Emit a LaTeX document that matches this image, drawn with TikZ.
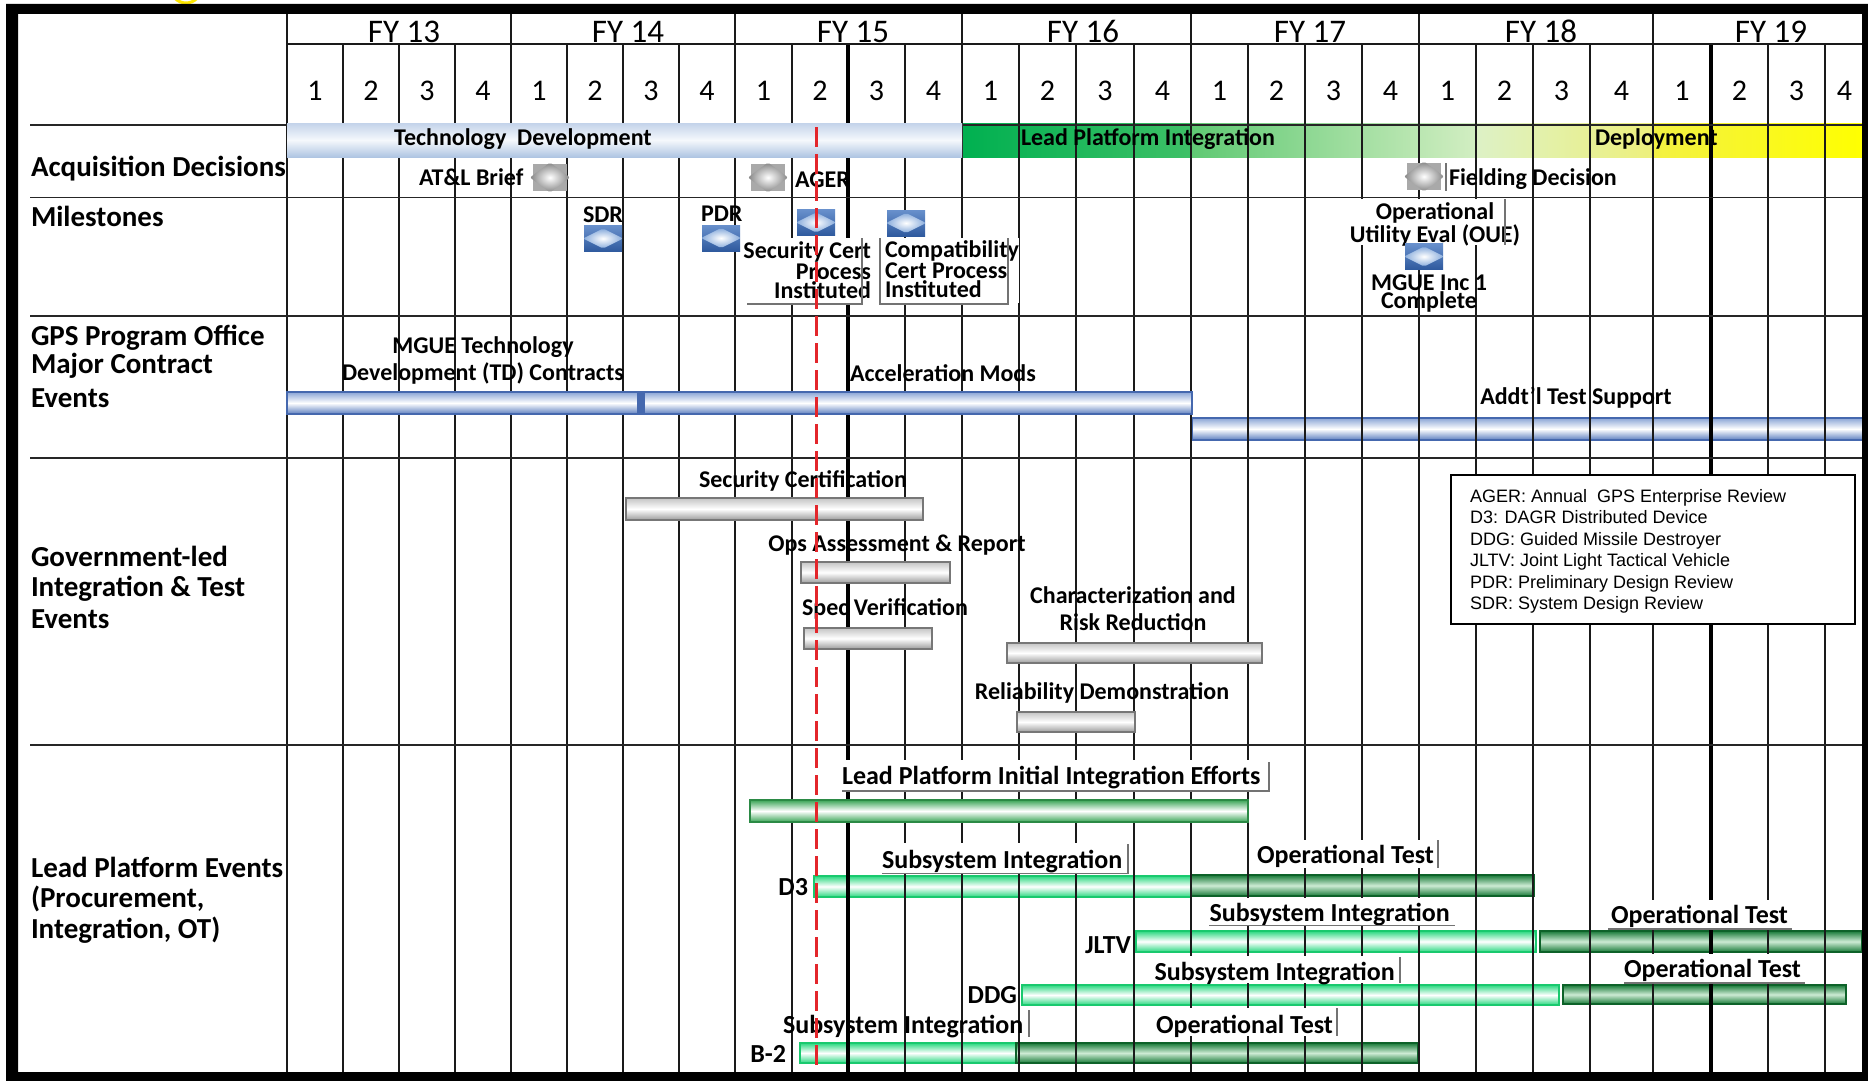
\documentclass[tikz,border=0pt]{standalone}
\usepackage{fontspec}
\setmainfont{Carlito}
\newfontfamily\legendfont{Liberation Sans}
\definecolor{gridc}{HTML}{1A1A1A}
\definecolor{redd}{HTML}{E3262B}
\definecolor{tdtop}{HTML}{C3D3EA}
\definecolor{tdmid}{HTML}{F5F8FC}
\definecolor{tdbot}{HTML}{AFC5E2}
\definecolor{gA}{HTML}{00B050}
\definecolor{gB}{HTML}{3EC067}
\definecolor{gC}{HTML}{5FC973}
\definecolor{gD}{HTML}{D2EEC2}
\definecolor{gE}{HTML}{DDF1C6}
\definecolor{gF}{HTML}{EDF07C}
\definecolor{gG}{HTML}{F3F143}
\definecolor{gH}{HTML}{FFFF00}
\definecolor{bluedge}{HTML}{4568AE}
\definecolor{bluetop}{HTML}{8AA5D6}
\definecolor{bluebot}{HTML}{5D7FC0}
\definecolor{greyedge}{HTML}{777777}
\definecolor{greytop}{HTML}{C4C4C4}
\definecolor{greybot}{HTML}{9C9C9C}
\definecolor{ltgedge}{HTML}{19C96E}
\definecolor{ltg}{HTML}{2AD880}
\definecolor{dkgedge}{HTML}{0D6229}
\definecolor{dkg}{HTML}{187A38}
\definecolor{dkgmid}{HTML}{CDEBD4}
\definecolor{mdgedge}{HTML}{2B8A45}
\definecolor{mdg}{HTML}{3AA556}
\definecolor{icongrey}{HTML}{A9A9A9}
\definecolor{icongreyd}{HTML}{858585}
\definecolor{iconbluel}{HTML}{6890CC}
\definecolor{iconblued}{HTML}{2F5A9E}
\definecolor{iconlens}{HTML}{86AADB}
\begin{document}
\begin{tikzpicture}[x=1pt,y=-1pt,
  every node/.style={inner sep=0pt, outer sep=0pt},
  fyhdr/.style={font=\fontsize{33}{33}\selectfont, anchor=base},
  hdr/.style={font=\fontsize{30}{30}\selectfont, anchor=base},
  sec/.style={font=\bfseries\fontsize{29}{31}\selectfont, anchor=base west},
  lbl/.style={font=\bfseries\fontsize{24}{25}\selectfont},
  stack/.style={font=\bfseries\fontsize{24}{19.3}\selectfont},
  biglbl/.style={font=\bfseries\fontsize{26}{28}\selectfont},
  tight/.style={text depth=0pt, text height=15pt},
  leg/.style={font=\legendfont\fontsize{18}{20}\selectfont, anchor=base west},
  gline/.style={draw=gridc, line width=1.3pt},
  thk/.style={draw=black, line width=3.4pt},
  sepl/.style={draw=black!85, line width=1.6pt},
  boxedge/.style={draw=black!55, line width=1.1pt},
  bluebar/.style={draw=bluedge, line width=2.2pt, top color=bluetop, bottom color=bluebot, middle color=white},
  greybar/.style={draw=greyedge, line width=2.6pt, top color=greytop, bottom color=greybot, middle color=white},
  subbar/.style={draw=ltgedge, line width=1.6pt, top color=ltg, bottom color=ltg, middle color=white},
  opbar/.style={draw=dkgedge, line width=1.6pt, top color=dkg, bottom color=dkg, middle color=dkgmid},
  lpbar/.style={draw=mdgedge, line width=1.2pt, top color=mdg, bottom color=mdg, middle color=white},
  greyicon/.pic={
    \fill[icongrey] (-17,-13.5) rectangle (17,13.5);
    \shade[inner color=white, outer color=icongreyd, rounded corners=2pt] (-20,0) -- (0,-15) -- (20,0) -- (0,15) -- cycle;
  },
  blueicon/.pic={
    \shade[top color=iconbluel, bottom color=iconblued] (-19,-13) rectangle (19,13);
    \shade[inner color=white, outer color=iconlens, rounded corners=2pt] (-20,0) -- (0,-10) -- (20,0) -- (0,10) -- cycle;
  },
]
\useasboundingbox (0,0) rectangle (1868,1081);
\fill[white] (0,0) rectangle (1868,1081);
\draw[yellow!90!orange, line width=3pt] (186,-12) circle[radius=15];

% ---------- bars that sit under the grid lines ----------
\shade[left color=gA, right color=gB] (962,123) rectangle (1191,157);
\shade[left color=gC, right color=gD] (1191,123) rectangle (1476,157);
\shade[left color=gE, right color=gF] (1476,123) rectangle (1653,157);
\shade[left color=gG, right color=gH] (1653,123) rectangle (1864,157);
\path[bluebar] (1192,418) rectangle (1864,440);
\path[subbar] (814,876) rectangle (1191,897);
\path[opbar] (1191,875) rectangle (1534,896);
\path[subbar] (1136,931) rectangle (1536,952);
\path[opbar] (1540,931) rectangle (1862,952);
\path[subbar] (1022,985) rectangle (1559,1005);
\path[opbar] (1563,985) rectangle (1846,1004);
\path[subbar] (800,1043) rectangle (1016,1063);
\path[opbar] (1016,1043) rectangle (1418,1063);

% ---------- grid ----------
\foreach \x in {343,399,455,567,623,679,792,905,1019,1076,1134,1248,1305,1362,1476,1533,1590,1768,1825}
  \draw[gline] (\x,44) -- (\x,1072);
\foreach \x in {287,511,735,962,1191,1419,1653}
  \draw[gline] (\x,14) -- (\x,1072);
\foreach \x in {848,1711}
  \draw[thk] (\x,44) -- (\x,1072);
\draw[gline] (287,44) -- (1862,44);
\foreach \y in {125,197.5,316,458,745}
  \draw[sepl] (30,\y) -- (1862,\y);

% ---------- header ----------
\foreach \t/\x in {13/404,14/628,15/853,16/1083,17/1310,18/1541,19/1771}
  \node[fyhdr] (fy\t) at (\x,43) {FY \t};
\foreach \m [count=\i from 0] in {315,371,427,483,539,595,651,707,763.5,820,876.5,933.5,990.5,1047.5,1105,1162.5,1219.5,1276.5,1333.5,1390.5,1447.5,1504.5,1561.5,1621.5,1682,1739.5,1796.5,1844.5}{
  \pgfmathtruncatemacro\d{mod(\i,4)+1}
  \node[hdr] (qn\i) at (\m,100) {\d};
}

% ---------- bars over the grid ----------
\shade[top color=tdtop, bottom color=tdbot, middle color=tdmid] (287,123) rectangle (962,157);
\path[bluebar] (287,392) rectangle (641,414);
\path[bluebar] (641,392) rectangle (1192,414);
\fill[bluedge] (637,392) rectangle (645,414);
\path[greybar] (626,498) rectangle (923,520);
\path[greybar] (801,562) rectangle (950,583);
\path[greybar] (804,628) rectangle (932,649);
\path[greybar] (1007,643) rectangle (1262,663);
\path[greybar] (1017,712) rectangle (1135,732);
\path[lpbar] (750,800) rectangle (1248,822);

% ---------- section labels ----------
\node[sec] (acq) at (31,176) {Acquisition Decisions};
\node[sec] (mil) at (31,226) {Milestones};
\node[sec, tight] (gps1) at (31,345) {GPS Program Office};
\node[sec, tight] (gps2) at (31,373) {Major Contract};
\node[sec] (gps3) at (31,407) {Events};
\node[sec, tight] (gov1) at (31,566.5) {Government-led};
\node[sec, tight] (gov2) at (31,596.5) {Integration \& Test};
\node[sec] (gov3) at (31,628) {Events};
\node[sec, tight] (lp1) at (31,877) {Lead Platform Events};
\node[sec, tight] (lp2) at (31,907.5) {(Procurement,};
\node[sec] (lp3) at (31,938) {Integration, OT)};

% ---------- phase labels ----------
\node[lbl, anchor=base] (td) at (523,145) {Technology\ \ Development};
\node[lbl, anchor=base west] (lpint) at (1021,145) {Lead Platform Integration};
\node[lbl, anchor=base west] (dep) at (1595,145) {Deployment};

% ---------- acquisition decisions ----------
\node[lbl, anchor=base west] (atl) at (419,185) {AT\&L Brief};
\pic at (550,177.5) {greyicon};
\pic at (768,177.5) {greyicon};
\node[lbl, anchor=base west] (ager) at (795,187) {AGER};
\pic at (1424,176.5) {greyicon};
\node[lbl, anchor=base west] (field) at (1449,185) {Fielding Decision};
\draw[boxedge] (1446,163) -- (1446,191);

% ---------- milestones ----------
\node[lbl, anchor=base west] (sdr) at (583,222) {SDR};
\pic at (603,238.5) {blueicon};
\node[lbl, anchor=base west] (pdr) at (701,221) {PDR};
\pic at (721,238) {blueicon};
\fill[white] (745,238) rectangle (873,303);
\node[stack, align=right, anchor=north east] (sc) at (871,242) {Security Cert\\Process\\Instituted};
\draw[boxedge] (747,304) -- (862,304) -- (862,238);
\pic at (816,222.5) {blueicon};
\fill[white] (880,238) rectangle (1019,303);
\node[stack, align=left, anchor=north west] (cc) at (885,241) {Compatibility\\Cert Process\\Instituted};
\draw[boxedge] (880,238) -- (880,304) -- (1008,304) -- (1008,238);
\pic at (906,223) {blueicon};
\fill[white] (1350,199) rectangle (1505,245);
\node[stack, align=center, anchor=north] (oue) at (1435,203) {Operational\\Utility Eval (OUE)};
\draw[boxedge] (1505,199) -- (1505,245);
\pic at (1424,256.5) {blueicon};
\node[stack, align=center, anchor=north, font=\bfseries\fontsize{24}{18}\selectfont] (mgi) at (1429,274.5) {MGUE Inc 1\\Complete};

% ---------- GPS program office ----------
\node[lbl, tight, anchor=base] (mt1) at (483,353) {MGUE Technology};
\node[lbl, anchor=base] (mt2) at (483,380) {Development (TD) Contracts};
\node[lbl, anchor=base] (acc) at (943,381) {Acceleration Mods};
\node[lbl, anchor=base] (add) at (1576,404) {Addt'l Test Support};

% ---------- government-led ----------
\node[lbl, anchor=base] (secc) at (803,487) {Security Certification};
\node[lbl, anchor=base] (ops) at (897,551) {Ops Assessment \& Report};
\node[lbl, anchor=base] (spec) at (885,615) {Spec Verification};
\node[lbl, tight, anchor=base] (char1) at (1133,603) {Characterization and};
\node[lbl, anchor=base] (char2) at (1133,630) {Risk Reduction};
\node[lbl, anchor=base] (rel) at (1102,699) {Reliability Demonstration};

% legend
\draw[fill=white, line width=2pt] (1451,475) rectangle (1855,624);
\node[leg] (l1) at (1470,502) {AGER: Annual\ \ GPS Enterprise Review};
\node[leg] (l2) at (1470,523.5) {D3: DAGR Distributed Device};
\node[leg] (l3) at (1470,545) {DDG: Guided Missile Destroyer};
\node[leg] (l4) at (1470,566.5) {JLTV: Joint Light Tactical Vehicle};
\node[leg] (l5) at (1470,588) {PDR: Preliminary Design Review};
\node[leg] (l6) at (1470,609.5) {SDR: System Design Review};

% ---------- lead platform ----------
\fill[white] (841,760) rectangle (1269,790);
\node[biglbl, anchor=base west] (lpi) at (842,784) {Lead Platform Initial Integration Efforts};
\draw[boxedge] (842,791) -- (1269,791) -- (1269,762);

\node[biglbl, anchor=base east] (d3) at (808,895) {D3};
\fill[white] (880,843) rectangle (1128,873);
\node[biglbl, anchor=base west] (d3s) at (882,868) {Subsystem Integration};
\draw[boxedge] (882,873.5) -- (1128,873.5) -- (1128,844);
\fill[white] (1255,840) rectangle (1438,868);
\node[biglbl, anchor=base west] (d3o) at (1257,863) {Operational Test};
\draw[boxedge] (1438,840) -- (1438,868);

\node[biglbl, anchor=base east] (jltv) at (1131,953) {JLTV};
\fill[white] (1208,898) rectangle (1455,925);
\node[biglbl, anchor=base west] (js) at (1209.5,921) {Subsystem Integration};
\draw[boxedge] (1209,925.5) -- (1455,925.5);
\fill[white] (1608,900) rectangle (1792,928);
\node[biglbl, anchor=base west] (jo) at (1611,923.5) {Operational Test};
\draw[boxedge] (1608,929) -- (1792,929);

\node[biglbl, anchor=base east] (ddg) at (1017,1003) {DDG};
\fill[white] (1153,956) rectangle (1400,983);
\node[biglbl, anchor=base west] (ds) at (1154.5,980) {Subsystem Integration};
\draw[boxedge] (1400,957) -- (1400,983);
\fill[white] (1622,954) rectangle (1805,982);
\node[biglbl, anchor=base west] (do) at (1624,977) {Operational Test};
\draw[boxedge] (1624,983) -- (1805,983);

\node[biglbl, anchor=base east] (b2) at (786,1062) {B-2};
\node[biglbl, anchor=base west] (bs) at (783,1033.5) {Subsystem Integration};
\draw[boxedge] (1029,1010) -- (1029,1037);
\fill[white] (1154,1008) rectangle (1337,1036);
\node[biglbl, anchor=base west] (bo) at (1156,1033) {Operational Test};
\draw[boxedge] (1337,1008) -- (1337,1036);

% ---------- current date line ----------
\coordinate (redtop) at (816.5,127);
\coordinate (redbot) at (816.5,1072);
\draw[redd, line width=3.6pt, dash pattern=on 20pt off 7pt] (redtop) -- (redbot);

% ---------- frame ----------
\fill[black, even odd rule] (6,4) rectangle (1868,1081) (18,14) rectangle (1862,1072);
\end{tikzpicture}
\end{document}
